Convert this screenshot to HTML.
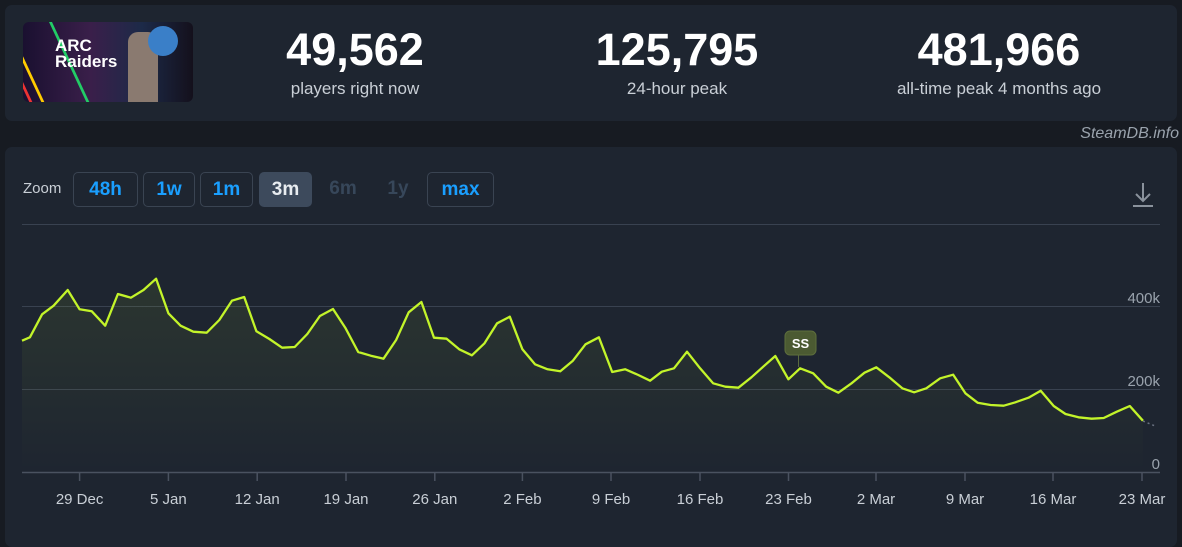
<!DOCTYPE html>
<html><head><meta charset="utf-8"><style>
*{margin:0;padding:0;box-sizing:border-box}
body{width:1182px;height:532px;background:#171b22;font-family:"Liberation Sans",sans-serif;position:relative;overflow:hidden}
.p{position:absolute;background:#1e2530;border-radius:7px}
.num{position:absolute;width:320px;text-align:center;color:#fff;font-weight:bold;font-size:45px;top:24px}
.sub{position:absolute;width:320px;text-align:center;color:#c9cfd6;font-size:17px;top:79px}
.b{position:absolute;top:172px;height:35px;border:1px solid #3a4452;border-radius:5px;color:#1a9fff;font-weight:bold;font-size:19px;text-align:center;line-height:33px}
.t{position:absolute;color:#c9cfd6;font-size:15px;top:491px;width:80px;text-align:center}
.y{position:absolute;color:#9aa3ad;font-size:15px;right:22px;text-align:right}
</style></head><body>
<div class="p" style="left:5px;top:5px;width:1172px;height:116px"></div>
<div style="position:absolute;left:23px;top:22px;width:170px;height:80px;border-radius:6px;background:linear-gradient(90deg,#1a1030,#3a1f4a 40%,#1c2a48 70%,#14101c);overflow:hidden">
<div style="position:absolute;left:-10px;top:-5px;width:60px;height:100px;border-left:3px solid #e33;border-right:3px solid #2c6;transform:skewX(25deg)"></div>
<div style="position:absolute;left:2px;top:-5px;width:30px;height:100px;border-left:3px solid #fc0;transform:skewX(25deg)"></div>
<div style="position:absolute;left:32px;top:16px;color:#fff;font-weight:bold;font-size:17px;line-height:16px">ARC<br>Raiders</div>
<div style="position:absolute;left:105px;top:10px;width:30px;height:70px;background:#8a7a70;border-radius:10px 10px 0 0"></div>
<div style="position:absolute;left:125px;top:4px;width:30px;height:30px;background:#3a7fc8;border-radius:50%"></div>
</div>
<div class="num" style="left:195px">49,562</div><div class="sub" style="left:195px">players right now</div>
<div class="num" style="left:517px">125,795</div><div class="sub" style="left:517px">24-hour peak</div>
<div class="num" style="left:839px">481,966</div><div class="sub" style="left:839px">all-time peak 4 months ago</div>
<div style="position:absolute;right:3px;top:125px;color:#9aa3ad;font-style:italic;font-size:16px">SteamDB.info</div>
<div class="p" style="left:5px;top:147px;width:1172px;height:400px"></div>
<div style="position:absolute;left:23px;top:180px;color:#c9cfd6;font-size:15px">Zoom</div>
<div class="b" style="left:73px;width:65px">48h</div>
<div class="b" style="left:143px;width:52px">1w</div>
<div class="b" style="left:200px;width:53px">1m</div>
<div class="b" style="left:259px;width:53px;background:#3d4a5c;border-color:#3d4a5c;color:#e8ecf0">3m</div>
<div class="b" style="left:318px;width:50px;border:none;color:#37475a">6m</div>
<div class="b" style="left:373px;width:50px;border:none;color:#37475a">1y</div>
<div class="b" style="left:427px;width:67px">max</div>
<svg style="position:absolute;left:0;top:0" width="1182" height="532">
<g stroke="#8a929c" stroke-width="2" fill="none"><path d="M1143 183v18M1136 194l7 7 7-7M1133 206h20"/></g>
<g stroke="#394250" stroke-width="1"><path d="M22 224.5H1160M22 306.5H1160M22 389.5H1160"/></g>
<path d="M22 472.5H1160" stroke="#4a5260" stroke-width="1.5"/>
<g id="ticks" stroke="#4a5260" stroke-width="1.5"></g>
<defs><linearGradient id="g" x1="0" y1="0" x2="0" y2="1"><stop offset="0" stop-color="#c7f928" stop-opacity=".08"/><stop offset="1" stop-color="#c7f928" stop-opacity="0"/></linearGradient></defs>
<path id="area" fill="url(#g)"/>
<polyline id="ln" fill="none" stroke="#c3f42a" stroke-width="2.3" stroke-linejoin="round"/>
<line x1="1143" y1="421" x2="1155" y2="426" stroke="#6a7280" stroke-width="1.5" stroke-dasharray="2 3"/>
<line x1="798.5" y1="354" x2="798.5" y2="367" stroke="#5a6a40" stroke-width="1"/>
<rect x="785" y="331" width="31" height="24" rx="5" fill="#4b5a32" stroke="#5d6e3c"/>
<text x="800.5" y="348" fill="#fff" font-weight="bold" font-size="13" text-anchor="middle" font-family="Liberation Sans">SS</text>
</svg>
<div class="y" style="top:290px">400k</div>
<div class="y" style="top:373px">200k</div>
<div class="y" style="top:456px">0</div>
<div id="tl"></div>
<script>
var a=[62,242,78,232,110,163,140,137,177,90,208,148,240,154,275,197,308,102,342,113,375,90,408,56,440,160,472,197,505,215,540,218,573,180,606,122,638,111,670,214,704,237,737,263,770,261,803,222,836,168,870,147,903,205,936,276,969,287,1002,296,1035,240,1068,157,1101,126,1134,233,1167,236,1200,268,1233,286,1266,250,1299,190,1332,170,1365,268,1398,313,1431,328,1464,334,1497,302,1530,253,1565,232];
var b=[258,336,288,328,318,345,345,362,372,335,400,325,430,275,460,325,490,370,518,380,548,383,578,352,605,320,633,288,663,358,690,325,720,340,750,380,778,398,808,370,838,338,865,322,895,352,925,385,952,397,980,385,1012,355,1042,344,1070,400,1098,428,1128,435,1158,437,1185,427,1215,413,1243,392,1273,438,1300,462,1330,472,1360,476,1388,474,1418,455,1448,438,1478,482];
var p=[];
for(var i=0;i<a.length;i+=2)p.push([a[i]/2.613,a[i+1]/3+260]);
for(i=0;i<b.length;i+=2)p.push([b[i]/2.299+500,b[i+1]/3+260]);
p[0][0]=22;
var s=p.map(function(q){return q[0].toFixed(1)+','+q[1].toFixed(1)}).join(' ');
document.getElementById('ln').setAttribute('points',s);
document.getElementById('area').setAttribute('d','M22,472 L'+s.split(' ').join(' L')+' L'+p[p.length-1][0].toFixed(1)+',472Z');
var L=['29 Dec','5 Jan','12 Jan','19 Jan','26 Jan','2 Feb','9 Feb','16 Feb','23 Feb','2 Mar','9 Mar','16 Mar','23 Mar'];
var X=[79.6,168.4,257.2,346,434.8,522.4,611,700,788.5,876,965,1053,1142];
var t='',h='';
for(i=0;i<13;i++){t+='<line x1="'+X[i]+'" x2="'+X[i]+'" y1="472" y2="481"/>';h+='<div class="t" style="left:'+(X[i]-40)+'px">'+L[i]+'</div>';}
document.getElementById('ticks').innerHTML=t;
document.getElementById('tl').innerHTML=h;
</script>
</body></html>
